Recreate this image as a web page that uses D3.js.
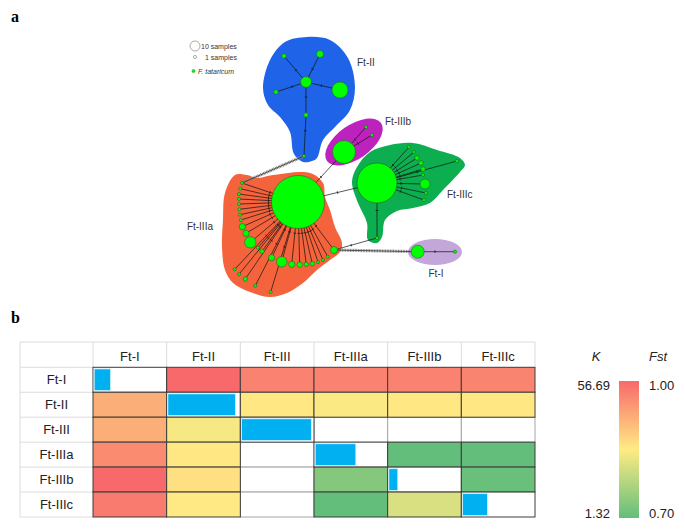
<!DOCTYPE html>
<html><head><meta charset="utf-8">
<script src="https://cdn.jsdelivr.net/npm/d3@7"></script>
<style>body{margin:0;background:#fff}svg{display:block}</style>
</head><body>
<svg id="c" width="685" height="531"></svg>
<script>
// ---------------- DATA ----------------
const groups = ["Ft-I","Ft-II","Ft-III","Ft-IIIa","Ft-IIIb","Ft-IIIc"];
// upper triangle: Fst (row i, col j>i)
const fstValues = [
  [null, 1.00, 0.97, 0.97, 0.97, 0.968],
  [null, null, 0.853, 0.846, 0.853, 0.853],
  [null, null, null, null, null, null],
  [null, null, null, null, 0.70, 0.70],
  [null, null, null, null, null, 0.705],
  [null, null, null, null, null, null]
];
// lower triangle: K (row i, col j<i)
const kValues = [
  [null, null, null, null, null, null],
  [42.0, null, null, null, null, null],
  [42.0, 27.4, null, null, null, null],
  [49.5, 29.8, null, null, null, null],
  [56.69, 31.6, null, 7.4, null, null],
  [52.8, 29.5, null, 1.32, 22.1, null]
];
// diagonal (within-group) bar fraction
const diagValues = [0.23, 0.95, 0.98, 0.57, 0.125, 0.35];
const kRange = [1.32, 56.69];
const fstRange = [0.70, 1.00];

// haplotype network (layout units) : [id, group, lx, ly, samples]
const hapNodes = [
  ["II0","Ft-II",126,52,12],["II1","Ft-II",104,26,2],["II2","Ft-II",140,24,5],
  ["II3","Ft-II",96,62,2],["II4","Ft-II",160,60,26],["II5","Ft-II",126,85,2],["II6","Ft-II",124,126,1],
  ["B0","Ft-IIIb",164,122,53],["B1","Ft-IIIb",186,97,1],["B2","Ft-IIIb",192,105,1],
  ["C0","Ft-IIIc",197,153,160],["C1","Ft-IIIc",229,117,1],["C2","Ft-IIIc",234,122,1],["C3","Ft-IIIc",237,128,2],
  ["C4","Ft-IIIc",241,133,2],["C5","Ft-IIIc",243,139,2],["C6","Ft-IIIc",243,145,1],["C7","Ft-IIIc",245,154,10],
  ["C8","Ft-IIIc",246,163,1],["C9","Ft-IIIc",244,170,1],["C10","Ft-IIIc",277,131,1],["C11","Ft-IIIc",197,208,1],
  ["A0","Ft-IIIa",118,172,281],
  ["A1","Ft-IIIa",62,153,1],["A2","Ft-IIIa",60.3,158.7,1],["A3","Ft-IIIa",59,164,1],["A4","Ft-IIIa",59,169,1],
  ["A5","Ft-IIIa",59,174,1],["A6","Ft-IIIa",59.3,179.3,1],["A7","Ft-IIIa",60,184.7,1],["A8","Ft-IIIa",61,190,1],
  ["A9","Ft-IIIa",62.3,196.7,4],["A10","Ft-IIIa",66,203.3,4],["A11","Ft-IIIa",70.3,212.3,13],["A12","Ft-IIIa",78,217.7,1],
  ["A13","Ft-IIIa",82,221.3,2],["A14","Ft-IIIa",91.7,227.7,4],["A15","Ft-IIIa",101.7,231.7,11],["A16","Ft-IIIa",111.7,234.3,4],
  ["A17","Ft-IIIa",119.7,234.7,3],["A18","Ft-IIIa",126.3,234.3,2],["A19","Ft-IIIa",132.3,233.7,2],["A20","Ft-IIIa",138,232,1],
  ["A21","Ft-IIIa",143,230,1],["A22","Ft-IIIa",147.7,226.7,1],["A23","Ft-IIIa",154,220,5],
  ["A24","Ft-IIIa",54.7,239.3,1],["A25","Ft-IIIa",59,244.3,1],["A26","Ft-IIIa",65.3,249,2],["A27","Ft-IIIa",75.3,255.7,1],["A28","Ft-IIIa",90.7,262,1],
  ["I0","Ft-I",237.7,221.7,17],["I1","Ft-I",275,221.7,1]
];
// links: [source, target, type]  type: 1 = single step, 2 = many steps
const hapLinks = [
  ["II0","II1",1],["II0","II2",1],["II0","II3",1],["II0","II4",1],["II0","II5",1],["II5","II6",1],
  ["B0","B1",1],["B0","B2",1],
  ["C0","C1",1],["C0","C2",1],["C0","C3",1],["C0","C4",1],["C0","C5",1],["C0","C6",1],["C0","C7",1],
  ["C0","C8",1],["C0","C9",1],["C0","C10",1],["C0","C11",1],
  ["A0","A1",1],["A0","A2",1],["A0","A3",1],["A0","A4",1],["A0","A5",1],["A0","A6",1],["A0","A7",1],["A0","A8",1],
  ["A0","A9",1],["A0","A10",1],["A0","A11",1],["A0","A12",1],["A0","A13",1],["A0","A14",1],["A0","A15",1],
  ["A0","A16",1],["A0","A17",1],["A0","A18",1],["A0","A19",1],["A0","A20",1],["A0","A21",1],["A0","A22",1],
  ["A0","A23",1],["A0","A24",1],["A0","A25",1],["A0","A26",1],["A0","A27",1],["A0","A28",1],
  ["A0","B0",1],["A0","C0",1],["A23","C11",1],["I0","I1",1],
  ["II6","A1",2],["A23","I0",2]
];
// group outlines (layout units)
const hulls = [
  {g:"Ft-II", pts:[[127,7],[150,10],[168,28],[175,57],[170,80],[155,97],[143,110],[137,128],[132,131],[123,132],[114,124],[110,102],[100,87],[88,75],[83,58],[90,30],[105,12]]},
  {g:"Ft-IIIc", pts:[[172,152],[177,137],[190,122],[210,115],[233,113],[257,120],[280,128],[285,135],[280,142],[263,160],[250,173],[233,178],[217,181],[205,190],[202,207],[197,213],[188,210],[187,193],[178,173]]},
  {g:"Ft-IIIa", pts:[[55,145],[67,145],[77,148],[93,145],[130,143],[143,153],[145,167],[150,180],[155,197],[162,213],[160,222],[150,230],[137,240],[123,253],[107,263],[90,267],[70,262],[53,253],[45,240],[42,217],[43,190],[45,163]]}
];
const ellipses = [
  {g:"Ft-IIIb", cx:174, cy:112, rx:33, ry:17, rot:-35},
  {g:"Ft-I", cx:255, cy:222, rx:27, ry:13, rot:0}
];
const groupLabels = [
  ["Ft-II",177,36,"start"],["Ft-IIIb",205,95,"start"],["Ft-IIIc",267,168,"start"],
  ["Ft-IIIa",33,200,"end"],["Ft-I",256,247,"middle"]
];
const groupColors = {"Ft-II":"#1f64e8","Ft-IIIb":"#bd22be","Ft-IIIc":"#0cae50","Ft-IIIa":"#f5633c","Ft-I":"#c3a6da"};
const legendSizes = [10, 1];

// ---------------- DRAW ----------------
const svg = d3.select("#c");
svg.append("text").attr("x",11).attr("y",22).attr("font-family","Liberation Serif, serif")
  .attr("font-weight","bold").attr("font-size",16).text("a");
svg.append("text").attr("x",11).attr("y",323).attr("font-family","Liberation Serif, serif")
  .attr("font-weight","bold").attr("font-size",16).text("b");

// network scales
const nx = d3.scaleLinear().domain([0,300]).range([180,480]);
const ny = d3.scaleLinear().domain([0,300]).range([30,330]);
const rS = d3.scaleSqrt().domain([0,10]).range([0,5]);
const net = svg.append("g");
const lineGen = d3.line().x(d=>nx(d[0])).y(d=>ny(d[1])).curve(d3.curveCatmullRomClosed.alpha(0.5));
net.selectAll("path.hull").data(hulls).join("path").attr("d",d=>lineGen(d.pts)).attr("fill",d=>groupColors[d.g]);
net.selectAll("ellipse").data(ellipses).join("ellipse")
  .attr("transform",d=>`translate(${nx(d.cx)},${ny(d.cy)}) rotate(${d.rot})`)
  .attr("rx",d=>d.rx).attr("ry",d=>d.ry).attr("fill",d=>groupColors[d.g]);

const nodeById = new Map(hapNodes.map(d=>[d[0],d]));
hapLinks.forEach(([s,t,type])=>{
  const a=nodeById.get(s), b=nodeById.get(t);
  const x1=nx(a[2]), y1=ny(a[3]), x2=nx(b[2]), y2=ny(b[3]);
  if(type===2){
    net.append("line").attr("x1",x1).attr("y1",y1).attr("x2",x2).attr("y2",y2)
      .attr("stroke","#888").attr("stroke-width",3.2).attr("stroke-dasharray","0.9 0.7");
    net.append("line").attr("x1",x1).attr("y1",y1).attr("x2",x2).attr("y2",y2)
      .attr("stroke","#333").attr("stroke-width",0.8);
  } else {
    net.append("line").attr("x1",x1).attr("y1",y1).attr("x2",x2).attr("y2",y2)
      .attr("stroke","#111").attr("stroke-width",0.7);
    // mutation tick
    const L=Math.hypot(x2-x1,y2-y1), ux=(x2-x1)/L, uy=(y2-y1)/L;
    const ra=rS(a[4]);
    const m = Math.min(0.5*L, ra + 0.35*(L-ra));
    const mx=x1+ux*m, my=y1+uy*m;
    net.append("line").attr("x1",mx-uy*1.3).attr("y1",my+ux*1.3).attr("x2",mx+uy*1.3).attr("y2",my-ux*1.3)
      .attr("stroke","#111").attr("stroke-width",0.8);
  }
});
net.selectAll("circle.node").data(hapNodes).join("circle").attr("class","node")
  .attr("cx",d=>nx(d[2])).attr("cy",d=>ny(d[3])).attr("r",d=>rS(d[4]))
  .attr("fill","#00ff00").attr("stroke","#2b5f2b").attr("stroke-width",0.6);
net.selectAll("text.gl").data(groupLabels).join("text").attr("class","gl")
  .attr("x",d=>nx(d[1])).attr("y",d=>ny(d[2])).attr("text-anchor",d=>d[3])
  .attr("font-family","Liberation Sans, Arial, sans-serif").attr("font-size",10).attr("fill","#333").text(d=>d[0]);
// legend
const lg = net.append("g");
legendSizes.forEach((s,i)=>{
  const cy = i===0 ? 46 : 57;
  lg.append("circle").attr("cx",195).attr("cy",cy).attr("r",rS(s)).attr("fill","#fff").attr("stroke","#888").attr("stroke-width",0.7);
  lg.append("text").attr("x",i===0?201:205).attr("y",cy+2.5).attr("font-family","Liberation Sans, Arial, sans-serif")
    .attr("font-size",7).attr("fill","#333").text(s+" samples");
});
lg.append("circle").attr("cx",193.5).attr("cy",71).attr("r",1.6).attr("fill","#00ff00").attr("stroke","#2b5f2b").attr("stroke-width",0.4);
lg.append("text").attr("x",198).attr("y",73.5).attr("font-family","Liberation Sans, Arial, sans-serif")
  .attr("font-size",7).attr("font-style","italic").attr("fill","#333").text("F. tataricum");

// ---------------- TABLE ----------------
const tx = d3.scaleBand().domain(groups).range([93,535]);
const ty = d3.scaleBand().domain(groups).range([367.3,517]);
const headTop = 342, labelLeft = 20;
const stops = ["#63be7b","#ffeb84","#f8696b"];
const fstColor = d3.scaleLinear().domain([fstRange[0],(fstRange[0]+fstRange[1])/2,fstRange[1]]).range(stops);
const kColor = d3.scaleLinear().domain([kRange[0],(kRange[0]+kRange[1])/2,kRange[1]]).range(stops);
const tb = svg.append("g");
const font = "Liberation Sans, Arial, sans-serif";
// light grid for header & labels
tb.append("line").attr("x1",labelLeft).attr("x2",535).attr("y1",headTop).attr("y2",headTop).attr("stroke","#dcdcdc");
tb.append("line").attr("x1",labelLeft).attr("x2",labelLeft).attr("y1",headTop).attr("y2",517).attr("stroke","#dcdcdc");
tb.append("line").attr("x1",labelLeft).attr("x2",93).attr("y1",517).attr("y2",517).attr("stroke","#dcdcdc");
tb.append("line").attr("x1",535).attr("x2",535).attr("y1",headTop).attr("y2",367).attr("stroke","#dcdcdc");
groups.forEach(g=>{
  tb.append("line").attr("x1",tx(g)).attr("x2",tx(g)).attr("y1",headTop).attr("y2",367.3).attr("stroke","#dcdcdc");
  tb.append("line").attr("x1",labelLeft).attr("x2",93).attr("y1",ty(g)).attr("y2",ty(g)).attr("stroke","#dcdcdc");
});
tb.selectAll("text.h").data(groups).join("text").attr("class","h")
  .attr("x",d=>tx(d)+tx.bandwidth()/2).attr("y",361).attr("text-anchor","middle")
  .attr("font-family",font).attr("font-size",13).attr("fill","#222").text(d=>d);
tb.selectAll("text.r").data(groups).join("text").attr("class","r")
  .attr("x",(labelLeft+93)/2).attr("y",d=>ty(d)+ty.bandwidth()/2+4.5).attr("text-anchor","middle")
  .attr("font-family",font).attr("font-size",13).attr("fill","#222").text(d=>d);
const cells=[];
groups.forEach((rg,i)=>groups.forEach((cg,j)=>{
  let v=null, fill="#fff";
  if(j>i && fstValues[i][j]!=null){v=fstValues[i][j]; fill=fstColor(v);}
  if(j<i && kValues[i][j]!=null){v=kValues[i][j]; fill=kColor(v);}
  cells.push({i,j,rg,cg,v,fill,empty: v==null && i!==j});
}));
// white cells first (grey border), then coloured (dark border)
const order = cells.slice().sort((a,b)=>(b.empty?1:0)-(a.empty?1:0));
tb.selectAll("rect.cell").data(order).join("rect").attr("class","cell")
  .attr("x",d=>tx(d.cg)).attr("y",d=>ty(d.rg)).attr("width",tx.bandwidth()).attr("height",ty.bandwidth())
  .attr("fill",d=>d.fill).attr("stroke",d=>d.empty?"#a6a6a6":"#3c3c3c").attr("stroke-width",1);
tb.selectAll("rect.bar").data(diagValues).join("rect").attr("class","bar")
  .attr("x",(d,i)=>tx(groups[i])+1.2).attr("y",(d,i)=>ty(groups[i])+1.6)
  .attr("width",d=>d*(tx.bandwidth()-2.4)).attr("height",ty.bandwidth()-3.2)
  .attr("fill","#00b0f0").attr("stroke","#d6f1fb").attr("stroke-width",0.8);

// ---------------- COLOUR BAR ----------------
const defs = svg.append("defs");
const grad = defs.append("linearGradient").attr("id","cb").attr("x1",0).attr("y1",1).attr("x2",0).attr("y2",0);
stops.forEach((c,i)=>grad.append("stop").attr("offset",i/2).attr("stop-color",c));
const cbY = d3.scaleLinear().domain(kRange).range([518,381]);
const fY = d3.scaleLinear().domain(fstRange).range([518,381]);
svg.append("rect").attr("x",619).attr("y",cbY(kRange[1])).attr("width",20).attr("height",cbY(kRange[0])-cbY(kRange[1])).attr("fill","url(#cb)");
svg.append("text").attr("x",596).attr("y",361).attr("text-anchor","middle").attr("font-family",font).attr("font-style","italic").attr("font-size",13).attr("fill","#222").text("K");
svg.append("text").attr("x",658).attr("y",361).attr("text-anchor","middle").attr("font-family",font).attr("font-style","italic").attr("font-size",13).attr("fill","#222").text("Fst");
kRange.forEach(v=>svg.append("text").attr("x",610).attr("y",cbY(v)+ (v===kRange[1]?9:0)).attr("text-anchor","end")
  .attr("font-family",font).attr("font-size",13).attr("fill","#222").text(v.toFixed(2)));
fstRange.forEach(v=>svg.append("text").attr("x",649).attr("y",fY(v)+(v===fstRange[1]?9:0)).attr("text-anchor","start")
  .attr("font-family",font).attr("font-size",13).attr("fill","#222").text(v.toFixed(2)));
</script>
</body></html>
